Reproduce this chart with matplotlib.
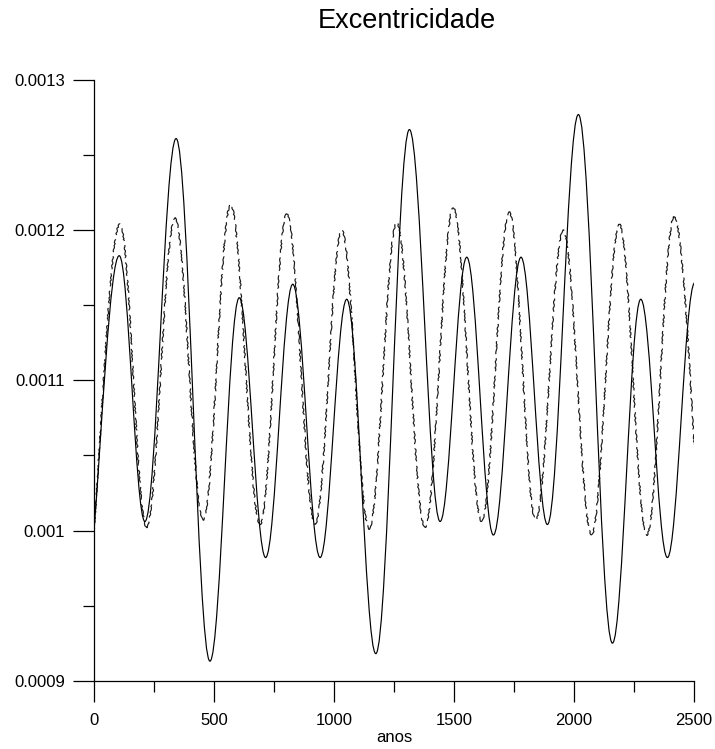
import matplotlib
matplotlib.use('Agg')
import matplotlib.pyplot as plt
from matplotlib.path import Path
from matplotlib.patches import PathPatch
from matplotlib.ticker import MultipleLocator, FixedLocator

plt.rcParams['font.family'] = ['Liberation Sans', 'DejaVu Sans']

# extremos (máximos e mínimos)
anos_solida = [0, 105, 212, 342, 483, 605, 715, 828, 942, 1053, 1174,
               1314, 1442, 1553, 1664, 1779, 1889, 2018, 2160, 2278, 2389, 2503]
exc_solida = [0.001000, 0.001183, 0.001006, 0.001261, 0.000913, 0.001155,
              0.000982, 0.001164, 0.000982, 0.001154, 0.000918, 0.001267,
              0.001006, 0.001182, 0.000997, 0.001182, 0.001004, 0.001277,
              0.000925, 0.001154, 0.000982, 0.001165]

anos_tracejada = [0, 108, 219, 337, 455, 569, 692, 803, 921, 1032, 1146,
                  1261, 1379, 1497, 1615, 1730, 1840, 1955, 2073, 2189, 2303,
                  2417, 2500]
exc_tracejada = [0.001000, 0.001204, 0.001002, 0.001208, 0.001007, 0.001217,
                 0.001004, 0.001211, 0.001004, 0.001200, 0.001001, 0.001205,
                 0.001002, 0.001215, 0.001006, 0.001212, 0.001007, 0.001200,
                 0.000997, 0.001204, 0.000997, 0.001209, 0.001057]

y_ticks = [0.0009, 0.001, 0.0011, 0.0012, 0.0013]
y_labels = ['0.0009', '0.001', '0.0011', '0.0012', '0.0013']
x_ticks = [0, 500, 1000, 1500, 2000, 2500]


def curva(anos, valores, inicio_livre=True, fim_livre=False):
    # curva de Bezier passando pelos extremos, tangente horizontal nos picos
    a = 0.364
    verts = [(anos[0], valores[0])]
    codes = [Path.MOVETO]
    n = len(anos) - 1
    for i in range(n):
        x0, y0, x1, y1 = anos[i], valores[i], anos[i + 1], valores[i + 1]
        h = x1 - x0
        c1 = (x0 + a * h, y0)
        c2 = (x1 - a * h, y1)
        if i == 0 and inicio_livre:
            c1 = (x0 + 0.3 * h, y0 + 0.35 * (y1 - y0))
        if i == n - 1 and fim_livre:
            c2 = (x1 - 0.25 * h, y1 - 0.4 * (y1 - y0))
        verts += [c1, c2, (x1, y1)]
        codes += [Path.CURVE4] * 3
    return Path(verts, codes)


fig = plt.figure(figsize=(7.15, 7.49), dpi=100)
ax = fig.add_axes([0.1315, 0.0912, 0.8392, 0.802])

tracejada = PathPatch(curva(anos_tracejada, exc_tracejada, True, True),
                      fill=False, edgecolor='#1a1a1a', lw=0.85,
                      linestyle=(0, (12, 4)))
tracejada.set_sketch_params(0.5, 6, 3)
ax.add_patch(tracejada)
ax.add_patch(PathPatch(curva(anos_solida, exc_solida, True, False),
                       fill=False, edgecolor='black', lw=0.85))

ax.set_xlim(0, 2500)
ax.set_ylim(0.0009, 0.0013)

ax.spines['top'].set_visible(False)
ax.spines['right'].set_visible(False)
ax.spines['left'].set_linewidth(0.9)
ax.spines['bottom'].set_linewidth(0.9)

ax.xaxis.set_major_locator(FixedLocator(x_ticks))
ax.xaxis.set_minor_locator(MultipleLocator(250))
ax.set_xticklabels([str(t) for t in x_ticks])
ax.yaxis.set_major_locator(FixedLocator(y_ticks))
ax.yaxis.set_minor_locator(MultipleLocator(0.00005))
ax.set_yticklabels(y_labels)

ax.tick_params(which='major', direction='out', length=15, width=0.9, labelsize=12)
ax.tick_params(which='minor', direction='out', length=8, width=0.9)
ax.tick_params(axis='y', which='major', pad=6)
ax.tick_params(axis='x', which='major', pad=8)

fig.text(407 / 715, 1 - 21 / 749, 'Excentricidade', ha='center', va='center', fontsize=19.5)
fig.text(394 / 715, 1 - 738 / 749, 'anos', ha='center', va='center', fontsize=12)

fig.savefig('out.png', dpi=100)
